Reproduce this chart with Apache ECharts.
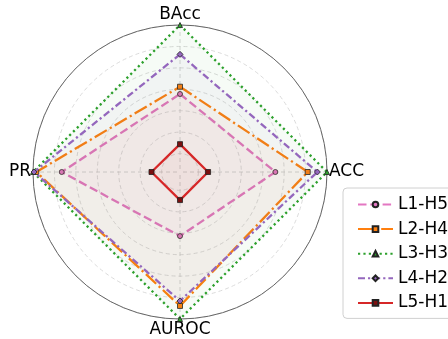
<!DOCTYPE html>
<html>
<head>
<meta charset="utf-8">
<script src="https://cdn.jsdelivr.net/npm/echarts@6/dist/echarts.min.js"></script>
<style>
  html, body { margin: 0; padding: 0; background: #fff; }
  #chart { width: 448px; height: 339px; }
</style>
</head>
<body>
<div id="chart"></div>
<script>
// Metric axes, clockwise from the top
const categories = ['BAcc', 'ACC', 'AUROC', 'PR'];
const seriesNames = ['L1-H5', 'L2-H4', 'L3-H3', 'L4-H2', 'L5-H1'];

// Scores per metric (same order as categories)
const l1h5 = [0.678, 0.759, 0.613, 0.866];
const l2h4 = [0.712, 0.910, 0.939, 0.985];
const l3h3 = [1.000, 1.000, 1.000, 1.000];
const l4h2 = [0.863, 0.955, 0.916, 0.995];
const l5h1 = [0.444, 0.445, 0.445, 0.447];

// Radial range of the plot
const radialMin = 0.314;
const radialMax = 1.0;

const seriesValues = [l1h5, l2h4, l3h3, l4h2, l5h1];
const colors = ['#e377c2', '#ff7f0e', '#2ca02c', '#9467bd', '#d62728'];
const dashes = [[8.5, 3.8], [14, 3.5, 2.2, 3.5], [2.2, 3.2], [7, 3, 2.2, 3], 'solid'];
const symbols = ['circle', 'rect', 'triangle', 'diamond', 'rect'];
const symbolSizes = [5, 5, 5, 6, 5];
const symbolFills = ['#e377c2', '#ff7f0e', '#2ca02c', '#9467bd', '#7a1010'];

const step = 360 / categories.length;

// Closed polygon: each metric at its own angle, first point repeated to close
function ring(values) {
  const pts = values.map((v, i) => [v, i * step]);
  pts.push({ value: [values[0], 360], symbol: 'none' });
  return pts;
}

const chart = echarts.init(document.getElementById('chart'));
const font = 'DejaVu Sans';

chart.setOption({
  animation: false,
  backgroundColor: '#fff',
  textStyle: { fontFamily: font },
  polar: { center: [180, 172], radius: 147 },
  angleAxis: {
    type: 'value', min: 0, max: 360, interval: step,
    startAngle: 90, clockwise: true,
    axisLine: { show: true, lineStyle: { color: '#666', width: 1 } },
    axisTick: { show: false },
    axisLabel: {
      show: true, margin: 2, color: '#000', fontSize: 17, fontFamily: font,
      formatter: v => (v < 360 ? categories[Math.round(v / step)] : '')
    },
    splitLine: { show: true, lineStyle: { color: '#cccccc', type: [4, 3], width: 0.8 } }
  },
  radiusAxis: {
    type: 'value', min: radialMin, max: radialMax, splitNumber: 7,
    axisLine: { show: false }, axisTick: { show: false }, axisLabel: { show: false },
    splitLine: { show: true, lineStyle: { color: '#d2d2d2', type: [4, 3], width: 0.8 } }
  },
  legend: {
    orient: 'vertical', left: 343, top: 188,
    padding: [8, 8, 7, 14], itemGap: 7.6, itemWidth: 35, itemHeight: 7,
    borderColor: '#d0d0d0', borderWidth: 1, borderRadius: 4,
    backgroundColor: '#fff',
    textStyle: { fontSize: 17, color: '#000', fontFamily: font },
    data: seriesNames
  },
  series: seriesNames.map((name, k) => ({
    name: name,
    type: 'line',
    coordinateSystem: 'polar',
    data: ring(seriesValues[k]),
    symbol: symbols[k],
    symbolSize: symbolSizes[k],
    lineStyle: { color: colors[k], width: 2.3, type: dashes[k] },
    itemStyle: { color: symbolFills[k], borderColor: '#222', borderWidth: 0.8 },
    areaStyle: { color: colors[k], opacity: 0.045 },
    z: 2 + k
  }))
});
</script>
</body>
</html>
